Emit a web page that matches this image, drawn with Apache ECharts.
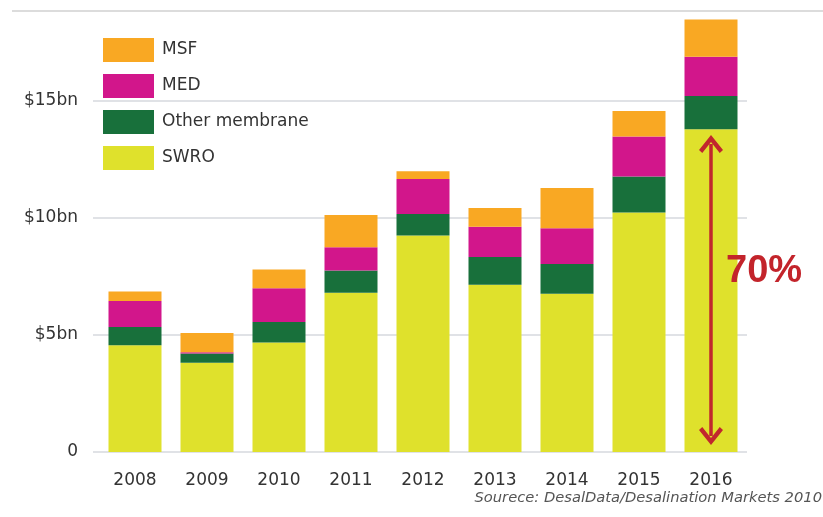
<!DOCTYPE html>
<html>
<head>
<meta charset="utf-8">
<script src="https://cdn.jsdelivr.net/npm/echarts@6/dist/echarts.min.js"></script>
<style>
  html, body { margin: 0; padding: 0; background: #fff; }
  #main { width: 823px; height: 517px; }
</style>
</head>
<body>
<div id="main"></div>
<script>
// 数据
var years = ['2008', '2009', '2010', '2011', '2012', '2013', '2014', '2015', '2016'];
var swro  = [4.56, 3.82, 4.68, 6.81, 9.25, 7.15, 6.76, 10.24, 13.8];
var other = [0.78, 0.39, 0.88, 0.95, 0.92, 1.18, 1.28, 1.54, 1.42];
var med   = [1.11, 0.05, 1.44, 0.99, 1.50, 1.30, 1.52, 1.71, 1.67];
var msf   = [0.41, 0.83, 0.80, 1.38, 0.33, 0.80, 1.72, 1.09, 1.60];
var yTicks = {0: '0', 5: '$5bn', 10: '$10bn', 15: '$15bn'};
var arrowRange = [13.16, 0.68];

var myChart = echarts.init(document.getElementById('main'));

// 箭头（开口）
var chevron = 'path://M0,15 L11,0 L22,15 L19,18 L11,7 L3,18 Z';
var font = 'DejaVu Sans, Verdana, sans-serif';

option = {
    backgroundColor: '#fff',
    animation: false,
    textStyle: { fontFamily: font },
    grid: { left: 99, right: 76, top: 11, bottom: 65 },
    legend: {//图例
        orient: 'vertical',
        left: 98,
        top: 33,
        itemWidth: 51,
        itemHeight: 24,
        itemGap: 12,
        data: ['MSF', 'MED', 'Other membrane', 'SWRO'],
        textStyle: { fontSize: 17, color: '#333', padding: [0, 0, 0, 3] },
        icon: 'rect'
    },
    xAxis: {
        type: 'category',
        data: years,
        axisLine: { show: false },
        axisTick: { show: false },
        axisLabel: { fontSize: 17, color: '#333', margin: 20 }
    },
    yAxis: {
        type: 'value',
        min: 0,
        max: 18.85,
        interval: 5,
        axisLine: { show: false },
        axisTick: { show: true, length: 6, lineStyle: { color: '#d6d9de', width: 1.5 } },
        axisLabel: {
            fontSize: 17, color: '#333', margin: 21, showMaxLabel: false,
            formatter: function (v) { return yTicks[v] !== undefined ? yTicks[v] : ''; }
        },
        splitLine: { lineStyle: { color: '#d6d9de', width: 1.5 }, showMaxLine: false }
    },
    series: [
        {
            name: 'SWRO', type: 'bar', stack: 'a', barWidth: 53, data: swro,
            itemStyle: { color: '#dfe12c' },
            markLine: {
                silent: true,
                symbol: [chevron, chevron],
                symbolSize: [24, 18],
                lineStyle: { color: '#c1272d', width: 3.5, type: 'solid' },
                itemStyle: { color: '#c1272d' },
                label: { show: false },
                data: [[{ coord: ['2016', arrowRange[0]] }, { coord: ['2016', arrowRange[1]] }]]
            }
        },
        { name: 'Other membrane', type: 'bar', stack: 'a', barWidth: 53, data: other, itemStyle: { color: '#18703b' } },
        { name: 'MED', type: 'bar', stack: 'a', barWidth: 53, data: med, itemStyle: { color: '#d2168b' } },
        { name: 'MSF', type: 'bar', stack: 'a', barWidth: 53, data: msf, itemStyle: { color: '#f9a823' } }
    ],
    graphic: [
        {
            type: 'line', z: 100,
            shape: { x1: 12, y1: 11, x2: 823, y2: 11 },
            style: { stroke: '#d0d0d0', lineWidth: 1.5 }
        },
        {
            type: 'text', z: 100,
            left: 726, top: 253,
            style: {
                text: '70%', fill: '#c3242b',
                font: 'bold 38px Liberation Sans, Arial, sans-serif'
            }
        },
        {
            type: 'text', z: 100,
            right: 1, top: 491,
            style: {
                text: 'Sourece: DesalData/Desalination Markets 2010', fill: '#555',
                font: 'italic 14.7px DejaVu Sans, Verdana, sans-serif'
            }
        }
    ]
};

myChart.setOption(option);
window.onresize = myChart.resize;
</script>
</body>
</html>
